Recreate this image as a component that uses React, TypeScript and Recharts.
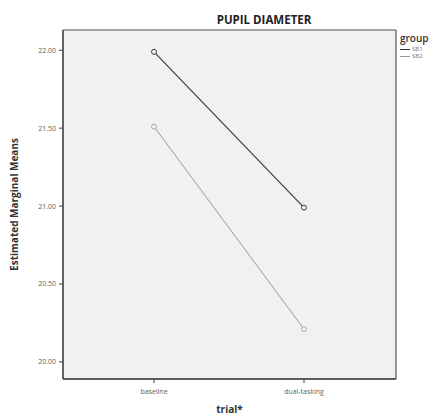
import { LineChart, Line, XAxis, YAxis, CartesianGrid } from 'recharts';

const trials = ['baseline', 'dual-tasking'];
const group1 = [21.99, 20.99];
const group2 = [21.51, 20.21];
const groupNames = ['SB1', 'SB2'];
const yTicks = [20, 20.5, 21, 21.5, 22];

const data = trials.map((t, i) => ({ trial: t, g1: group1[i], g2: group2[i] }));

const font = '"Open Sans", "DejaVu Sans", sans-serif';
const tickColor = '#5e5e5e';

// legend drawn as plain html so it doesn't shrink the plot area
const LegendBox = () => (
  <div style={{ position: 'absolute', left: 400, top: 33, fontFamily: font, color: '#333', lineHeight: 1 }}>
    <div style={{ fontSize: 10, fontWeight: 600, marginBottom: 3 }}>group</div>
    {groupNames.map((n, i) => (
      <div key={n} style={{ display: 'flex', alignItems: 'center', fontSize: 6, color: '#777', marginBottom: 1 }}>
        <span
          style={{
            display: 'inline-block',
            width: 10,
            height: 0,
            borderTop: `${i === 0 ? 1.5 : 1}px solid ${i === 0 ? '#333' : '#999'}`,
            marginRight: 2,
          }}
        />
        {n}
      </div>
    ))}
  </div>
);

const XTick = ({ x, y, payload }: any) => (
  <text x={x} y={y + 9} textAnchor="middle" fontSize={7} fill={tickColor} fontFamily={font}>
    {payload.value}
  </text>
);

const YTick = ({ x, y, payload }: any) => (
  <text x={x - 1} y={y + 2.5} textAnchor="end" fontSize={7} fill={tickColor} fontFamily={font}>
    {Number(payload.value).toFixed(2)}
  </text>
);

export default function App() {
  return (
    <div style={{ position: 'absolute', left: 0, top: 0, width: 437, height: 416, background: '#fff' }}>
      <div
        style={{
          position: 'absolute',
          top: 12,
          left: 264,
          transform: 'translateX(-50%)',
          fontFamily: font,
          fontWeight: 700,
          fontSize: 11.5,
          color: '#222',
          whiteSpace: 'nowrap',
        }}
      >
        PUPIL DIAMETER
      </div>
      <LegendBox />
      <LineChart
        width={437}
        height={416}
        data={data}
        margin={{ top: 30, right: 41, left: 23, bottom: 0 }}
      >
        <CartesianGrid
          fill="#f1f1f1"
          stroke="#555"
          strokeWidth={1.2}
          horizontalCoordinatesGenerator={({ offset }: any) => [offset.top, offset.top + offset.height]}
          verticalCoordinatesGenerator={({ offset }: any) => [offset.left, offset.left + offset.width]}
        />
        <XAxis
          dataKey="trial"
          type="category"
          scale="point"
          padding={{ left: 91, right: 92 }}
          height={37}
          stroke="#444"
          axisLine={{ stroke: '#444', strokeWidth: 1.5 }}
          tickLine={{ stroke: '#444' }}
          tickSize={4}
          tick={XTick}
          label={{
            value: 'trial*',
            position: 'insideBottom',
            offset: 3,
            style: { fontSize: 10, fontWeight: 700, fill: '#333', fontFamily: font },
          }}
        />
        <YAxis
          width={40}
          domain={[19.89, 22.13]}
          ticks={yTicks}
          stroke="#444"
          axisLine={{ stroke: '#444', strokeWidth: 1.2 }}
          tickLine={{ stroke: '#444' }}
          tickSize={4}
          tick={YTick}
          label={{
            value: 'Estimated Marginal Means',
            angle: -90,
            position: 'insideLeft',
            offset: -9,
            style: { textAnchor: 'middle', fontSize: 10, fontWeight: 700, fill: '#333', fontFamily: font },
          }}
        />
        <Line
          dataKey="g1"
          name={groupNames[0]}
          stroke="#3c3c3c"
          strokeWidth={1.2}
          dot={{ r: 2.5, fill: '#f1f1f1', stroke: '#3c3c3c', strokeWidth: 1 }}
          isAnimationActive={false}
        />
        <Line
          dataKey="g2"
          name={groupNames[1]}
          stroke="#9a9a9a"
          strokeWidth={1}
          dot={{ r: 2.5, fill: '#f1f1f1', stroke: '#aaa', strokeWidth: 1 }}
          isAnimationActive={false}
        />
      </LineChart>
    </div>
  );
}
